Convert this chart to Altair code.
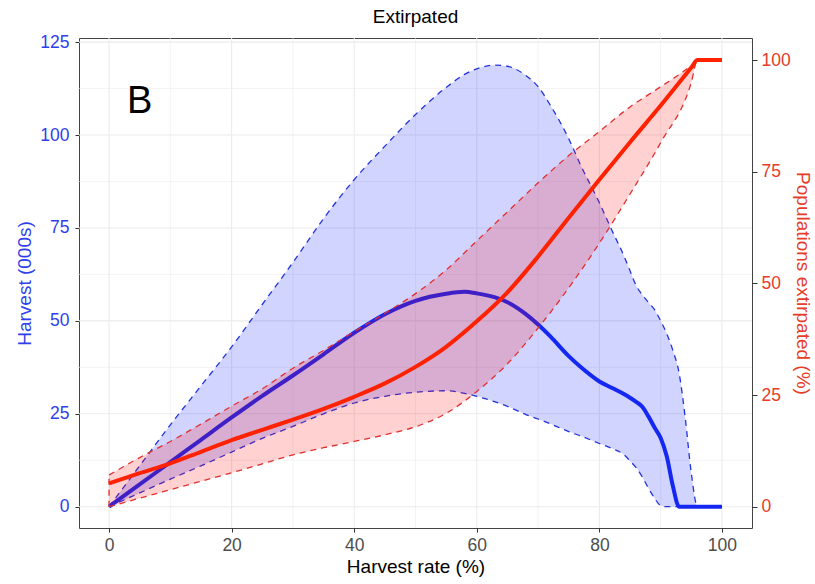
import altair as alt
import pandas as pd

# ---- data ----
blue_x = [0, 5, 10, 15, 20, 25, 30, 35, 40, 45, 50, 55, 58, 60, 63, 65, 68, 70, 72, 75, 77,
          80, 82, 84, 85, 86, 87, 88, 89, 90, 91, 92, 93, 94, 95, 96, 100]
blue_mean = [0, 6, 12, 18, 24, 29.8, 35.3, 41, 46.8, 51.8, 55.4, 57.3, 57.8, 57.4, 56.3, 55,
             51.8, 49, 45.8, 40.5, 37.5, 33.7, 32, 30.3, 29.3, 28.2, 26.9, 24.3, 21.3, 18.5,
             13.5, 5.5, 0, 0, 0, 0, 0]
blue_hi = [0, 11, 22, 32.5, 43, 54.4, 65.7, 77.5, 88, 97, 105.5, 112.8, 116.3, 117.8, 118.8,
           118.5, 116, 113, 108, 99, 91.7, 81.8, 74.5, 67.5, 63.5, 59.5, 57, 55, 53, 50, 46.5,
           42, 36, 24, 9, 0, 0]
blue_lo = [0, 3.7, 7.4, 11, 14.7, 18.4, 21.6, 25, 27.9, 29.7, 30.8, 31.2, 30.5, 29.7, 28.2,
           27, 24.8, 23.6, 22.3, 20.2, 19, 17, 15.7, 14, 12.3, 10.5, 8, 5, 2.3, 0.3, 0, 0, 0,
           0, 0, 0, 0]

red_x = [0, 5, 10, 15, 20, 25, 30, 35, 40, 45, 50, 55, 60, 65, 70, 75, 80, 85, 90, 95, 96, 100]
red_mean = [5.2, 7.5, 9.7, 12.3, 14.9, 17.2, 19.5, 21.9, 24.6, 27.6, 31.3, 35.8, 41.5, 48, 56,
            64.7, 73.2, 81.6, 89.8, 98.3, 100, 100]
red_hi = [7.1, 11, 14.6, 18.5, 22.5, 26.4, 31, 35, 39.2, 43.3, 47.7, 53, 59.5, 66, 72.5, 78.6,
          84, 89.5, 94, 98.8, 100, 100]
red_lo = [0, 1.9, 3.8, 5.7, 7.6, 9.6, 11.6, 13.2, 14.6, 16.1, 17.9, 20.9, 25.8, 32, 40, 49,
          59, 70, 81.5, 95, 100, 100]

x_major = [0, 20, 40, 60, 80, 100]
x_minor = [10, 30, 50, 70, 90]
y_major = [0, 25, 50, 75, 100, 125]
y_minor = [12.5, 37.5, 62.5, 87.5, 112.5]
right_ticks = [0, 25, 50, 75, 100]
panel_label = ["B"]

blue_df = pd.DataFrame({"x": blue_x, "mean": blue_mean, "hi": blue_hi, "lo": blue_lo})
red_df = pd.DataFrame({"x": red_x, "mean": red_mean, "hi": red_hi, "lo": red_lo})
red_edge = red_df.iloc[[0]]
label_df = pd.DataFrame({"x": [5], "y": [106], "t": panel_label})

FONT = "Liberation Sans"
BLUE_TXT = "#2F3FEB"
RED_TXT = "#E63C28"
BLUE_LINE = "#1428F2"
RED_LINE = "#FF2200"
BLUE_DASH = "#2233DD"
RED_DASH = "#E03030"
GRID = "#EBEBEB"

ratio = 1.2018
xscale = alt.Scale(domain=[-4.9, 104.9], nice=False, zero=False)
yL = alt.Scale(domain=[-5.73, 126.1], nice=False, zero=False)
yR = alt.Scale(domain=[-5.73 / ratio, 126.1 / ratio], nice=False, zero=False)

xaxis = alt.Axis(values=x_major, title="Harvest rate (%)", grid=False, domain=False,
                 tickSize=4, tickColor="#333333", labelColor="#4D4D4D", labelFontSize=17.5,
                 labelFont=FONT, labelPadding=4, titleFont=FONT, titleFontSize=19,
                 titleFontWeight="normal", titleColor="black", titlePadding=4)
yaxisL = alt.Axis(values=y_major, title="Harvest (000s)", grid=False, domain=False,
                  tickSize=4, tickColor="#333333", labelColor=BLUE_TXT, labelFontSize=17.5,
                  labelFont=FONT, labelPadding=6, titleFont=FONT, titleFontSize=19,
                  titleFontWeight="normal", titleColor=BLUE_TXT, titlePadding=5)
yaxisR = alt.Axis(values=right_ticks, orient="right", title="Populations extirpated (%)",
                  grid=False, domain=False, tickSize=5, tickColor="#333333",
                  labelColor=RED_TXT, labelFontSize=17.5, labelFont=FONT, labelPadding=4,
                  titleFont=FONT, titleFontSize=19, titleFontWeight="normal",
                  titleColor=RED_TXT, titlePadding=2)


def X(field):
    return alt.X(field, scale=xscale, axis=xaxis)


def YL(field):
    return alt.Y(field, scale=yL, axis=yaxisL)


def YR(field):
    return alt.Y(field, scale=yR, axis=yaxisR)


# grid lines
gx_major = alt.Chart(pd.DataFrame({"v": x_major})).mark_rule(color=GRID, strokeWidth=1.1).encode(x=X("v:Q"))
gx_minor = alt.Chart(pd.DataFrame({"v": x_minor})).mark_rule(color=GRID, strokeWidth=0.6).encode(x=X("v:Q"))
gy_major = alt.Chart(pd.DataFrame({"v": y_major})).mark_rule(color=GRID, strokeWidth=1.1).encode(y=YL("v:Q"))
gy_minor = alt.Chart(pd.DataFrame({"v": y_minor})).mark_rule(color=GRID, strokeWidth=0.6).encode(y=YL("v:Q"))

blue_base = alt.Chart(blue_df)
blue_area = blue_base.mark_area(color="#0010FF", opacity=0.18, interpolate="monotone").encode(
    x=X("x:Q"), y=YL("hi:Q"), y2="lo:Q")
blue_hi_l = blue_base.mark_line(color=BLUE_DASH, strokeWidth=1.3, strokeDash=[6, 5],
                                interpolate="monotone").encode(x=X("x:Q"), y=YL("hi:Q"))
blue_lo_l = blue_base.mark_line(color=BLUE_DASH, strokeWidth=1.3, strokeDash=[6, 5],
                                interpolate="monotone").encode(x=X("x:Q"), y=YL("lo:Q"))
blue_mean_l = blue_base.mark_line(color=BLUE_LINE, strokeWidth=4, interpolate="monotone").encode(
    x=X("x:Q"), y=YL("mean:Q"))
label = alt.Chart(label_df).mark_text(fontSize=38, font=FONT, color="black", align="center",
                                      baseline="alphabetic").encode(
    x=X("x:Q"), y=YL("y:Q"), text="t:N")

blue_group = alt.layer(gx_minor, gy_minor, gx_major, gy_major, blue_area, blue_hi_l, blue_lo_l,
                       blue_mean_l, label)

red_base = alt.Chart(red_df)
red_area = red_base.mark_area(color="#FF0000", opacity=0.18, interpolate="monotone").encode(
    x=X("x:Q"), y=YR("hi:Q"), y2="lo:Q")
red_hi_l = red_base.mark_line(color=RED_DASH, strokeWidth=1.3, strokeDash=[6, 5],
                              interpolate="monotone").encode(x=X("x:Q"), y=YR("hi:Q"))
red_lo_l = red_base.mark_line(color=RED_DASH, strokeWidth=1.3, strokeDash=[6, 5],
                              interpolate="monotone").encode(x=X("x:Q"), y=YR("lo:Q"))
red_edge_l = alt.Chart(red_edge).mark_rule(color=RED_DASH, strokeWidth=1.3, strokeDash=[6, 5]).encode(
    x=X("x:Q"), y=YR("lo:Q"), y2="hi:Q")
red_mean_l = red_base.mark_line(color=RED_LINE, strokeWidth=4, interpolate="monotone").encode(
    x=X("x:Q"), y=YR("mean:Q"))

red_group = alt.layer(red_area, red_hi_l, red_lo_l, red_edge_l, red_mean_l)

chart = alt.layer(blue_group, red_group).resolve_scale(y="independent").properties(
    width=673, height=490,
    title=alt.TitleParams("Extirpated", fontSize=19, fontWeight="normal", font=FONT,
                          color="black", anchor="middle", frame="group", offset=6),
    autosize=alt.AutoSizeParams(type="none"),
    padding={"left": 79, "top": 38, "right": 63, "bottom": 56},
    background="white",
).configure_view(stroke="#444444", strokeWidth=1)

chart.save("out.html", embed_options={"renderer": "svg", "actions": False})
